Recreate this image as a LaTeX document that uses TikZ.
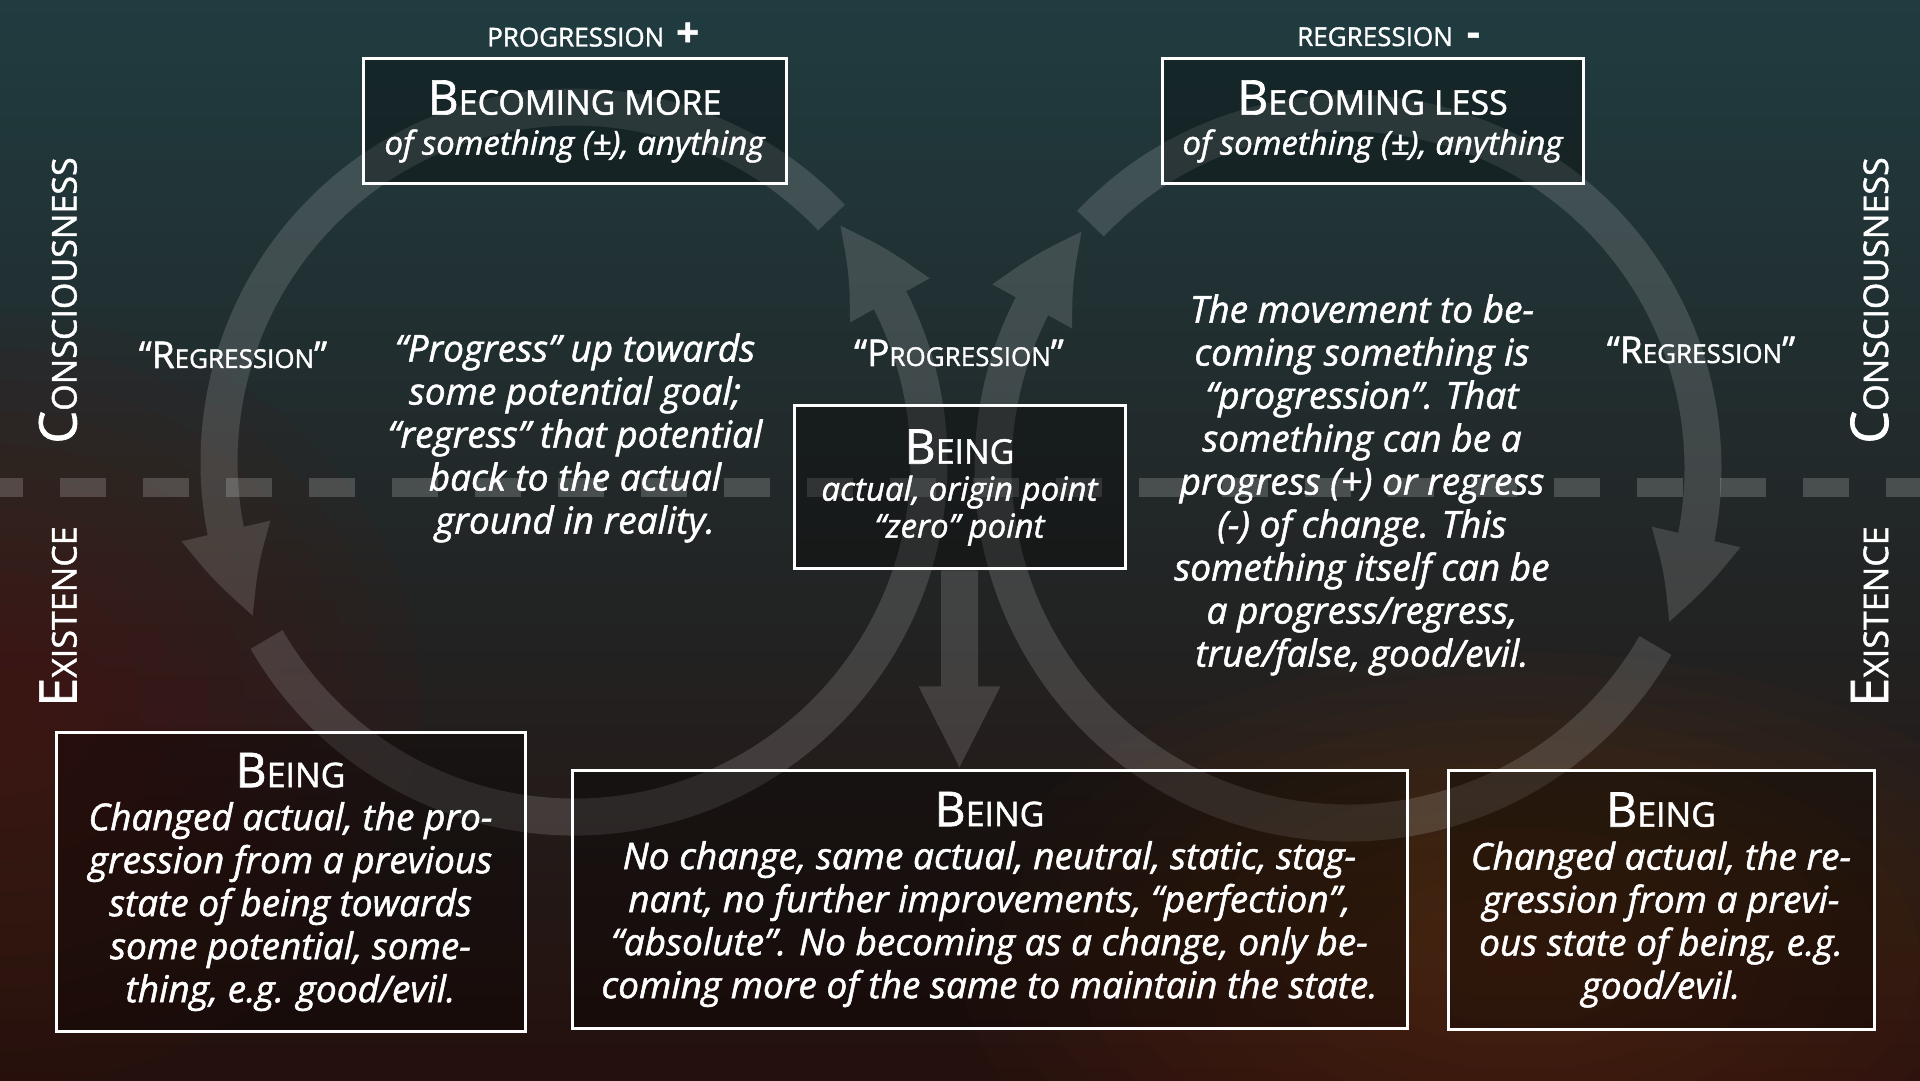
\documentclass[tikz,border=0pt]{standalone}
\usepackage{fontspec}
\setmainfont{Open Sans}[FakeBold=1.4]
\usetikzlibrary{arrows.meta,bending}

\definecolor{topteal}{RGB}{32,60,64}
\definecolor{midteal}{RGB}{22,34,40}
\definecolor{bottomred}{RGB}{36,16,13}
\definecolor{glowbrown}{RGB}{120,60,15}
\definecolor{glowred}{RGB}{95,22,12}

\pgfdeclarelayer{bg}
\pgfsetlayers{bg,main}

% title in fake small caps: big initial, smaller capitals
\newcommand{\boxtitle}[2]{{\upshape\fontsize{48}{43}\selectfont #1\fontsize{34}{43}\selectfont #2}}
\newcommand{\quotelabel}[2]{“#1{\fontsize{26}{26}\selectfont #2}”}
\newcommand{\sidelabel}[2]{#1{\fontsize{34}{34}\selectfont #2}}

\tikzset{
    framebox/.style={draw=white, line width=3pt, fill=black, fill opacity=0.32,
        text opacity=1, text=white, align=center, inner sep=0pt,
        font=\fontsize{37}{43}\selectfont\itshape},
    plaintext/.style={text=white, align=center, inner sep=0pt,
        font=\fontsize{37}{43}\selectfont\itshape},
    labeltext/.style={text=white, inner sep=0pt, font=\fontsize{37}{37}\selectfont},
    sidetext/.style={text=white, inner sep=0pt, rotate=90, anchor=base,
        font=\fontsize{52}{52}\selectfont},
    ringarrow/.style={white, line width=37pt, -{Triangle[width=83pt, length=93pt, bend]}},
    droparrow/.style={white, line width=37pt, -{Triangle[width=75pt, length=83pt]}},
    divide/.style={white, opacity=0.18, line width=19pt, dash pattern=on 46pt off 37pt, dash phase=23pt},
}

\begin{document}
\begin{tikzpicture}[x=1pt, y=1pt]
    \def\ringr{355}
    \useasboundingbox (0,0) rectangle (1920,1080);

    % boxes
    \node[framebox, minimum width=423pt, minimum height=125pt] (more) at (574.5,958.5)
        {\boxtitle{B}{ECOMING MORE}\\[-3pt] {\fontsize{33}{40}\selectfont of something (±), anything}};
    \node[framebox, minimum width=421pt, minimum height=125pt] (less) at (1372.5,958.5)
        {\boxtitle{B}{ECOMING LESS}\\[-3pt] {\fontsize{33}{40}\selectfont of something (±), anything}};
    \node[framebox, minimum width=331pt, minimum height=163pt,
          font=\fontsize{33}{37}\selectfont\itshape] (being) at (959.5,592.5)
        {\boxtitle{B}{EING}\\ actual, origin point\\ “zero” point};
    \node[framebox, minimum width=469pt, minimum height=298pt] (prog) at (290.5,198)
        {\boxtitle{B}{EING}\\ Changed actual, the pro-\\ gression from a previous\\
         state of being towards\\ some potential, some-\\ thing, e.g. good/evil.};
    \node[framebox, minimum width=835pt, minimum height=257pt] (stay) at (989.5,180.5)
        {\boxtitle{B}{EING}\\ No change, same actual, neutral, static, stag-\\
         nant, no further improvements, “perfection”,\\
         “absolute”. No becoming as a change, only be-\\
         coming more of the same to maintain the state.};
    \node[framebox, minimum width=426pt, minimum height=258pt] (regr) at (1661,180)
        {\boxtitle{B}{EING}\\ Changed actual, the re-\\ gression from a previ-\\
         ous state of being, e.g.\\ good/evil.};

    % free texts
    \node[plaintext] (uptext) at (575,642)
        {“Progress” up towards\\ some potential goal;\\ “regress” that potential\\
         back to the actual\\ ground in reality.};
    \node[plaintext] (movetext) at (1362,595)
        {The movement to be-\\ coming something is\\ “progression”. That\\
         something can be a\\ progress (+) or regress\\ (-) of change. This\\
         something itself can be\\ a progress/regress,\\ true/false, good/evil.};

    % labels
    \node[labeltext, anchor=base west] (plus) at (487,1033.5)
        {{\fontsize{26}{26}\selectfont PROGRESSION}\hspace{12pt}{\bfseries\fontsize{40}{40}\selectfont +}};
    \node[labeltext, anchor=base west] (minus) at (1297,1034)
        {{\fontsize{26}{26}\selectfont REGRESSION}\hspace{14pt}{\bfseries\fontsize{40}{40}\selectfont -}};
    \node[labeltext, anchor=base] (lreg) at (233,712) {\quotelabel{R}{EGRESSION}};
    \node[labeltext, anchor=base] (cprog) at (959,714) {\quotelabel{P}{ROGRESSION}};
    \node[labeltext, anchor=base] (rreg) at (1701,717) {\quotelabel{R}{EGRESSION}};

    \node[sidetext] (lcon) at (76.5,779.5) {\sidelabel{C}{ONSCIOUSNESS}};
    \node[sidetext] (lexi) at (76.5,463.5) {\sidelabel{E}{XISTENCE}};
    \node[sidetext] (rcon) at (1888,779.5) {\sidelabel{C}{ONSCIOUSNESS}};
    \node[sidetext] (rexi) at (1888,463.5) {\sidelabel{E}{XISTENCE}};

    \begin{pgfonlayer}{bg}
        % background
        \shade[top color=topteal, middle color=midteal, bottom color=bottomred]
            (0,0) rectangle (1920,1080);
        \foreach \k in {1,...,14}
            \fill[glowbrown, opacity=0.045] (1520,120) ellipse ({40*\k} and {22*\k});
        \foreach \k in {1,...,12}
            \fill[glowred, opacity=0.05] (0,380) ellipse ({35*\k} and {32*\k});

        % consciousness / existence divide
        \draw[divide] (0,592) -- (1920,592);

        % the two cycles and the drop
        \coordinate (lc) at (574,618);
        \coordinate (rc) at (1348,612);
        \begin{scope}[transparency group, opacity=0.14]
            \draw[ringarrow] ([shift={(210:\ringr)}]lc) arc[start angle=210, end angle=402, radius=\ringr];
            \draw[ringarrow] ([shift={(43.5:\ringr)}]lc) arc[start angle=43.5, end angle=206, radius=\ringr];
            \draw[ringarrow] ([shift={(330:\ringr)}]rc) arc[start angle=330, end angle=138, radius=\ringr];
            \draw[ringarrow] ([shift={(136.5:\ringr)}]rc) arc[start angle=136.5, end angle=-26, radius=\ringr];
            \draw[droparrow] (being.south) -- (being.south |- stay.north);
        \end{scope}
    \end{pgfonlayer}
\end{tikzpicture}
\end{document}
